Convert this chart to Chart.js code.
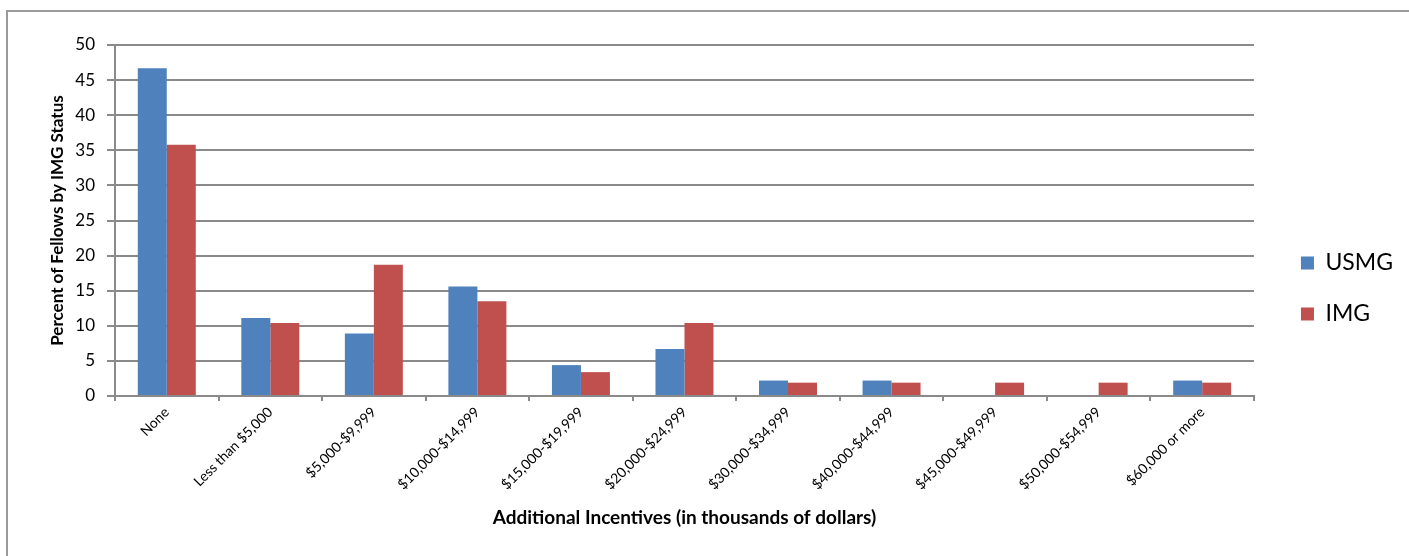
<!DOCTYPE html><html lang="en">
<head>
<meta charset="utf-8"/>
<title>Additional Incentives by IMG Status</title>
<script src="https://cdn.jsdelivr.net/npm/chart.js"></script>
<style>
  html,body{margin:0;padding:0;background:#fff;overflow:hidden}
  .frame{position:absolute;left:6px;top:10px;width:1420px;height:560px;border:2px solid #9a9a9a;border-right:none;border-bottom:none}
  canvas{display:block}
</style>
</head>
<body>
<div class="frame"><canvas id="chart" width="1401" height="546"></canvas></div>
<script>
// categories and percentages per group
const categories = ['None', 'Less than $5,000', '$5,000-$9,999', '$10,000-$14,999', '$15,000-$19,999',
  '$20,000-$24,999', '$30,000-$34,999', '$40,000-$44,999', '$45,000-$49,999', '$50,000-$54,999', '$60,000 or more'];
const usmg = [46.7, 11.1, 8.9, 15.6, 4.4, 6.7, 2.2, 2.2, 0, 0, 2.2];
const img  = [35.8, 10.4, 18.7, 13.5, 3.4, 10.4, 1.9, 1.9, 1.9, 1.9, 1.9];
const yTicks = [0, 5, 10, 15, 20, 25, 30, 35, 40, 45, 50];

const FONT = 'Lato, "Open Sans", sans-serif';
const GRID = '#8a8a8a';

// push the legend a little further away from the plot
const legendGap = {
  id: 'legendGap',
  afterLayout(chart) {
    const lg = chart.legend;
    lg.left += 19; lg.right += 19;
    lg.top -= 3; lg.bottom -= 3;
  }
};

new Chart(document.getElementById('chart'), {
  type: 'bar',
  data: {
    labels: categories,
    datasets: [
      {label: 'USMG', data: usmg, backgroundColor: '#4f81bd'},
      {label: 'IMG',  data: img,  backgroundColor: '#c0504d'}
    ]
  },
  plugins: [legendGap],
  options: {
    responsive: false,
    animation: false,
    layout: {padding: {top: 33, left: 39, right: 25, bottom: 20}},
    categoryPercentage: 0.56,
    barPercentage: 1.0,
    plugins: {
      tooltip: {enabled: false},
      legend: {
        position: 'right',
        labels: {
          color: '#000', boxWidth: 13, boxHeight: 13, padding: 28,
          font: {family: FONT, size: 23}
        }
      }
    },
    scales: {
      x: {
        afterFit: s => { s.height = 142; },
        grid: {drawOnChartArea: false, drawTicks: true, tickLength: 5, color: GRID, lineWidth: 2},
        border: {color: GRID, width: 2},
        ticks: {color: '#000', minRotation: 45, maxRotation: 45, autoSkip: false, font: {family: FONT, size: 14}},
        title: {display: true, text: 'Additional Incentives (in thousands of dollars)', color: '#000',
          font: {family: FONT, size: 19, weight: 'bold'}, padding: {top: 0, bottom: 9}}
      },
      y: {
        min: 0, max: 50,
        afterFit: s => { s.width = 68; },
        afterBuildTicks: s => { s.ticks = yTicks.map(v => ({value: v})); },
        grid: {color: GRID, lineWidth: 2, tickLength: 8},
        border: {color: GRID, width: 2},
        ticks: {color: '#000', padding: 12, font: {family: FONT, size: 17}},
        title: {display: true, text: 'Percent of Fellows by IMG Status', color: '#000',
          font: {family: FONT, size: 17, weight: 'bold'}, padding: {top: 0, bottom: 0}}
      }
    }
  }
});
</script>
</body>
</html>
